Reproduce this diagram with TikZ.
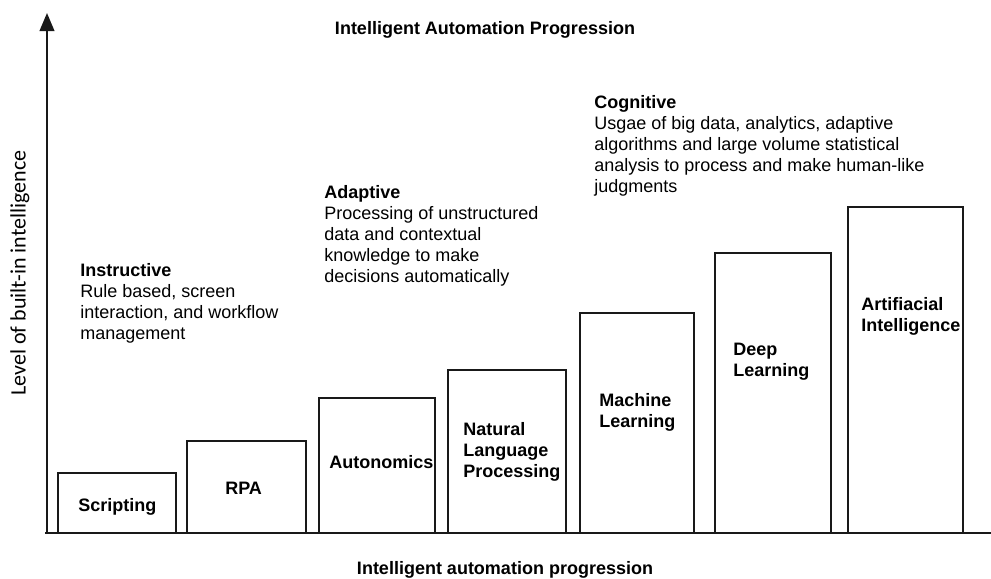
\documentclass[tikz,border=0pt]{standalone}
\usepackage{fontspec}
\setmainfont{Liberation Sans}
\newfontfamily\calibrifont{Carlito}
\usetikzlibrary{arrows.meta}

\tikzset{
  bar/.style={draw=black!90, line width=1.4pt},
  axisline/.style={draw=black!90, line width=1.4pt},
  txt/.style={anchor=north west, inner sep=0pt, align=left, font=\fontsize{13.5}{15.75}\selectfont},
  lbl/.style={anchor=north west, inner sep=0pt, align=left, font=\fontsize{13.5}{15.75}\selectfont\bfseries}
}

\begin{document}
\begin{tikzpicture}[x=0.75pt,y=0.75pt,yscale=-1,xscale=1]
\useasboundingbox (0,0) rectangle (991,578);
% axes
\draw[axisline, -{Triangle[length=13.5pt,width=11pt]}] (47,534) -- (47,13);
\draw[axisline] (45,533) -- (991,533);
% bars
\draw[bar] (58,533) rectangle (176,473);
\draw[bar] (187,533) rectangle (306,441);
\draw[bar] (319,533) rectangle (435,398);
\draw[bar] (448,533) rectangle (566,370);
\draw[bar] (580,533) rectangle (694,313);
\draw[bar] (715,533) rectangle (831,253);
\draw[bar] (848,533) rectangle (963,207);
% bar labels
\node[lbl] (scripting) at (78,498) {Scripting};
\node[lbl] (rpa) at (225,482) {RPA};
\node[lbl] (autonomics) at (329,455) {Autonomics};
\node[lbl] (nlp) at (463,422) {Natural\\Language\\Processing};
\node[lbl] (ml) at (599,393) {Machine\\Learning};
\node[lbl] (dl) at (733,343) {Deep\\Learning};
\node[lbl] (ai) at (861,297) {Artifiacial\\Intelligence};
% stage texts
\node[txt] (instructive) at (80,263) {\textbf{Instructive}\\Rule based, screen\\interaction, and workflow\\management};
\node[txt] (adaptive) at (324,185) {\textbf{Adaptive}\\Processing of unstructured\\data and contextual\\knowledge to make\\decisions automatically};
\node[txt] (cognitive) at (594,95) {\textbf{Cognitive}\\Usgae of big data, analytics, adaptive\\algorithms and large volume statistical\\analysis to process and make human-like\\judgments};
% titles
\node[font=\fontsize{13.5}{15.75}\selectfont\bfseries, inner sep=0pt] (title) at (485,30) {Intelligent Automation Progression};
\node[font=\fontsize{13.5}{15.75}\selectfont\bfseries, inner sep=0pt] (xlabel) at (505,570) {Intelligent automation progression};
\node[font=\calibrifont\fontsize{16.5}{18}\selectfont, inner sep=0pt, rotate=90] (ylabel) at (20,273) {Level of built-in intelligence};
\end{tikzpicture}
\end{document}
